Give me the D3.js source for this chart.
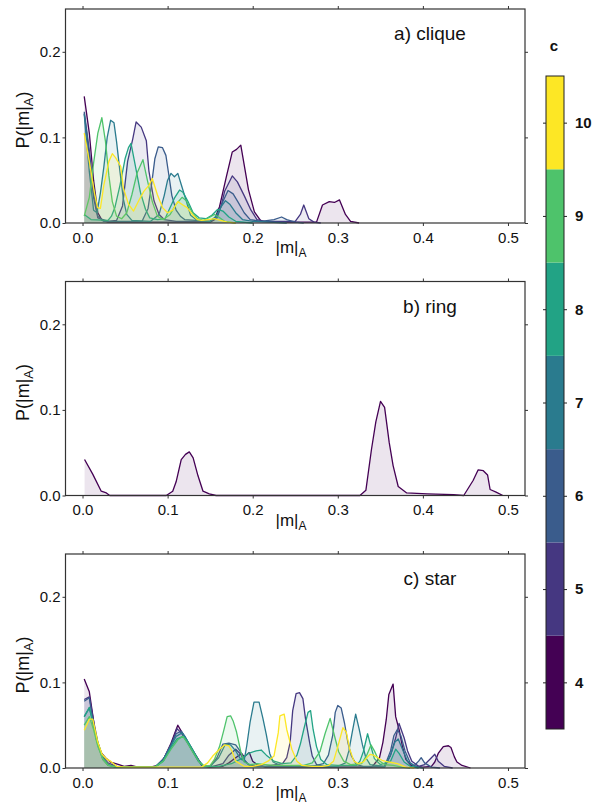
<!DOCTYPE html>
<html>
<head>
<meta charset="utf-8">
<script src="https://cdn.jsdelivr.net/npm/d3@7"></script>
<style>
  body { margin: 0; background: #fff; }
  text { font-family: "Liberation Sans", Arial, sans-serif; }
</style>
</head>
<body>
<div class="chart"></div>
<script>
// colour scale c = 4..10
var cValues = [4, 5, 6, 7, 8, 9, 10];
var cColors = ['#440154', '#453781', '#3a5c8c', '#2a7b8e', '#22a385', '#4ec36b', '#fde725'];

var xTicks = [0, 0.1, 0.2, 0.3, 0.4, 0.5];
var yTicks = [0, 0.1, 0.2];
var panelLabels = ['a) clique', 'b) ring', 'c) star'];

// a) clique, [|m|_A, P] per c
var cliqueC4 = [[0.002,0.148],[0.008,0.105],[0.013,0.05],[0.018,0.012],[0.023,0.003],[0.03,0.001],[0.08,0.001],[0.15,0.001],[0.155,0.004],[0.161,0.019],[0.169,0.054],[0.176,0.083],[0.181,0.086],[0.186,0.091],[0.195,0.039],[0.202,0.013],[0.21,0.002],[0.24,0.001],[0.275,0.001],[0.282,0.021],[0.29,0.025],[0.296,0.024],[0.302,0.027],[0.309,0.01],[0.315,0.002],[0.325,0]];
var cliqueC5 = [[0.002,0.128],[0.008,0.08],[0.013,0.03],[0.018,0.006],[0.03,0.002],[0.04,0.003],[0.047,0.02],[0.053,0.072],[0.059,0.098],[0.063,0.118],[0.069,0.112],[0.075,0.096],[0.078,0.061],[0.084,0.026],[0.09,0.01],[0.096,0.004],[0.11,0.002],[0.15,0.002],[0.158,0.006],[0.163,0.02],[0.167,0.037],[0.176,0.055],[0.182,0.048],[0.19,0.032],[0.198,0.015],[0.205,0.004],[0.215,0.002],[0.25,0.002],[0.256,0.01],[0.26,0.021],[0.266,0.005],[0.272,0.001],[0.28,0]];
var cliqueC6 = [[0.002,0.13],[0.008,0.085],[0.013,0.035],[0.018,0.008],[0.025,0.002],[0.07,0.002],[0.077,0.017],[0.081,0.044],[0.085,0.075],[0.089,0.089],[0.094,0.088],[0.098,0.079],[0.101,0.059],[0.105,0.032],[0.11,0.015],[0.115,0.008],[0.12,0.004],[0.15,0.002],[0.158,0.008],[0.165,0.025],[0.171,0.038],[0.177,0.034],[0.183,0.024],[0.19,0.012],[0.197,0.004],[0.21,0.002],[0.225,0.004],[0.234,0.007],[0.24,0.004],[0.25,0.001],[0.26,0]];
var cliqueC7 = [[0.002,0.127],[0.008,0.06],[0.013,0.015],[0.017,0.012],[0.021,0.035],[0.025,0.065],[0.029,0.1],[0.033,0.12],[0.037,0.117],[0.04,0.095],[0.044,0.06],[0.048,0.028],[0.052,0.01],[0.058,0.003],[0.08,0.002],[0.09,0.01],[0.096,0.032],[0.1,0.05],[0.104,0.058],[0.108,0.054],[0.112,0.058],[0.116,0.045],[0.12,0.032],[0.127,0.009],[0.135,0.003],[0.15,0.002],[0.157,0.008],[0.163,0.019],[0.168,0.026],[0.173,0.022],[0.18,0.012],[0.188,0.004],[0.2,0.002],[0.22,0.001],[0.24,0]];
var cliqueC8 = [[0.002,0.01],[0.01,0.004],[0.03,0.003],[0.034,0.008],[0.038,0.018],[0.044,0.044],[0.05,0.075],[0.054,0.088],[0.057,0.093],[0.063,0.062],[0.068,0.036],[0.074,0.016],[0.079,0.006],[0.088,0.004],[0.097,0.005],[0.102,0.016],[0.108,0.029],[0.114,0.0385],[0.118,0.036],[0.124,0.025],[0.13,0.012],[0.137,0.006],[0.145,0.005],[0.152,0.009],[0.159,0.016],[0.165,0.014],[0.172,0.007],[0.18,0.002],[0.2,0]];
var cliqueC9 = [[0.002,0.008],[0.008,0.03],[0.013,0.07],[0.018,0.105],[0.0227,0.123],[0.027,0.095],[0.031,0.055],[0.035,0.025],[0.04,0.008],[0.046,0.005],[0.052,0.012],[0.058,0.033],[0.064,0.058],[0.071,0.074],[0.076,0.051],[0.082,0.025],[0.088,0.008],[0.095,0.004],[0.103,0.01],[0.11,0.022],[0.117,0.03],[0.122,0.026],[0.128,0.014],[0.135,0.005],[0.142,0.003],[0.15,0.007],[0.155,0.01],[0.16,0.007],[0.167,0.002],[0.18,0]];
var cliqueC10 = [[0.002,0.105],[0.008,0.072],[0.0137,0.037],[0.0176,0.018],[0.021,0.017],[0.025,0.044],[0.031,0.072],[0.035,0.081],[0.039,0.076],[0.045,0.066],[0.048,0.041],[0.054,0.022],[0.06,0.014],[0.066,0.026],[0.072,0.037],[0.078,0.044],[0.082,0.052],[0.088,0.033],[0.094,0.018],[0.1,0.012],[0.106,0.015],[0.112,0.025],[0.118,0.021],[0.123,0.018],[0.129,0.01],[0.135,0.004],[0.14,0.003],[0.148,0.004],[0.155,0.005],[0.162,0.003],[0.17,0.001],[0.18,0]];

// b) ring, only c = 4
var ringC4 = [[0.0024,0.042],[0.012,0.025],[0.022,0.005],[0.028,0.003],[0.032,0],[0.0985,0],[0.106,0.005],[0.11,0.016],[0.116,0.042],[0.121,0.048],[0.1255,0.051],[0.13,0.044],[0.1357,0.023],[0.1416,0.005],[0.149,0.002],[0.157,0],[0.326,0],[0.333,0.006],[0.3396,0.054],[0.3447,0.086],[0.3502,0.11],[0.355,0.103],[0.3604,0.062],[0.365,0.035],[0.371,0.0105],[0.381,0.003],[0.405,0.002],[0.436,0.001],[0.448,0],[0.459,0.0175],[0.465,0.03],[0.471,0.029],[0.476,0.024],[0.479,0.007],[0.486,0.004],[0.494,0]];

// c) star
var starC4 = [[0.002,0.104],[0.008,0.089],[0.012,0.062],[0.016,0.034],[0.022,0.018],[0.028,0.011],[0.033,0.007],[0.041,0.0045],[0.049,0.002],[0.057,0.003],[0.065,0.001],[0.08,0.001],[0.088,0.003],[0.096,0.012],[0.104,0.029],[0.11,0.045],[0.112,0.05],[0.116,0.043],[0.12,0.036],[0.127,0.025],[0.135,0.012],[0.14,0.003],[0.15,0.001],[0.165,0.002],[0.172,0.006],[0.18,0.012],[0.187,0.017],[0.19,0.013],[0.196,0.018],[0.2,0.008],[0.205,0.004],[0.215,0.001],[0.34,0.001],[0.349,0.012],[0.353,0.03],[0.357,0.057],[0.36,0.086],[0.365,0.098],[0.368,0.06],[0.372,0.045],[0.376,0.025],[0.38,0.01],[0.386,0.003],[0.4,0.001],[0.41,0.002],[0.414,0.007],[0.418,0.017],[0.424,0.025],[0.43,0.026],[0.433,0.024],[0.437,0.013],[0.44,0.007],[0.446,0.003],[0.456,0]];
var starC5 = [[0.002,0.08],[0.008,0.083],[0.013,0.055],[0.018,0.03],[0.023,0.014],[0.03,0.006],[0.04,0.002],[0.06,0.001],[0.085,0.001],[0.095,0.01],[0.104,0.027],[0.111,0.046],[0.116,0.041],[0.12,0.035],[0.128,0.022],[0.136,0.01],[0.142,0.002],[0.15,0.001],[0.165,0.005],[0.172,0.015],[0.18,0.022],[0.186,0.016],[0.19,0.008],[0.197,0.003],[0.215,0.002],[0.235,0.005],[0.24,0.012],[0.244,0.03],[0.247,0.067],[0.251,0.087],[0.255,0.088],[0.259,0.081],[0.262,0.058],[0.267,0.029],[0.27,0.014],[0.275,0.004],[0.285,0.001],[0.355,0.001],[0.362,0.015],[0.368,0.035],[0.372,0.052],[0.378,0.035],[0.382,0.02],[0.387,0.008],[0.395,0.002],[0.402,0.004],[0.408,0.01],[0.414,0.016],[0.418,0.008],[0.425,0.002],[0.435,0]];
var starC6 = [[0.002,0.078],[0.008,0.082],[0.013,0.05],[0.018,0.027],[0.024,0.01],[0.03,0.004],[0.04,0.001],[0.085,0.001],[0.095,0.01],[0.104,0.027],[0.11,0.04],[0.116,0.043],[0.121,0.036],[0.128,0.022],[0.136,0.008],[0.142,0.002],[0.15,0.002],[0.158,0.012],[0.165,0.028],[0.172,0.029],[0.18,0.027],[0.185,0.02],[0.19,0.01],[0.195,0.004],[0.2,0.002],[0.23,0.002],[0.27,0.002],[0.283,0.005],[0.289,0.015],[0.294,0.038],[0.297,0.065],[0.3,0.073],[0.304,0.07],[0.308,0.052],[0.312,0.029],[0.316,0.014],[0.322,0.004],[0.33,0.002],[0.355,0.002],[0.362,0.02],[0.366,0.038],[0.37,0.045],[0.374,0.038],[0.379,0.02],[0.385,0.006],[0.39,0.003],[0.395,0.008],[0.398,0.012],[0.402,0.006],[0.41,0.001],[0.42,0]];
var starC7 = [[0.002,0.06],[0.008,0.07],[0.013,0.05],[0.018,0.028],[0.024,0.01],[0.03,0.003],[0.04,0.001],[0.085,0.001],[0.095,0.01],[0.104,0.026],[0.11,0.037],[0.117,0.041],[0.122,0.034],[0.129,0.022],[0.136,0.009],[0.142,0.002],[0.15,0.002],[0.16,0.012],[0.168,0.028],[0.174,0.027],[0.18,0.02],[0.186,0.01],[0.19,0.009],[0.193,0.026],[0.197,0.054],[0.2015,0.077],[0.2075,0.077],[0.212,0.058],[0.216,0.039],[0.22,0.017],[0.224,0.007],[0.232,0.003],[0.3,0.002],[0.309,0.006],[0.313,0.02],[0.317,0.042],[0.321,0.063],[0.325,0.046],[0.329,0.027],[0.333,0.012],[0.338,0.004],[0.355,0.002],[0.362,0.015],[0.367,0.03],[0.371,0.034],[0.376,0.022],[0.382,0.008],[0.39,0.002],[0.4,0]];
var starC8 = [[0.002,0.06],[0.008,0.071],[0.013,0.05],[0.018,0.03],[0.024,0.012],[0.03,0.004],[0.04,0.001],[0.085,0.001],[0.095,0.008],[0.104,0.024],[0.111,0.034],[0.118,0.037],[0.123,0.032],[0.13,0.02],[0.137,0.008],[0.143,0.002],[0.16,0.002],[0.175,0.005],[0.185,0.01],[0.195,0.017],[0.204,0.02],[0.21,0.021],[0.216,0.015],[0.225,0.008],[0.235,0.005],[0.245,0.006],[0.252,0.015],[0.256,0.028],[0.26,0.045],[0.265,0.065],[0.268,0.067],[0.271,0.045],[0.275,0.025],[0.28,0.01],[0.287,0.004],[0.3,0.003],[0.322,0.003],[0.326,0.008],[0.33,0.019],[0.335,0.04],[0.339,0.025],[0.343,0.011],[0.35,0.004],[0.362,0.008],[0.368,0.022],[0.372,0.017],[0.378,0.007],[0.385,0.002],[0.395,0]];
var starC9 = [[0.002,0.05],[0.008,0.06],[0.013,0.045],[0.018,0.025],[0.024,0.01],[0.03,0.003],[0.04,0.001],[0.085,0.001],[0.095,0.008],[0.104,0.022],[0.112,0.033],[0.118,0.037],[0.123,0.03],[0.13,0.018],[0.137,0.007],[0.143,0.002],[0.15,0.003],[0.155,0.01],[0.161,0.025],[0.166,0.044],[0.17,0.06],[0.174,0.061],[0.177,0.055],[0.181,0.042],[0.186,0.019],[0.19,0.007],[0.197,0.004],[0.205,0.005],[0.215,0.004],[0.225,0.003],[0.26,0.003],[0.27,0.006],[0.279,0.019],[0.285,0.04],[0.291,0.058],[0.296,0.038],[0.301,0.019],[0.307,0.008],[0.315,0.004],[0.328,0.005],[0.334,0.015],[0.339,0.027],[0.343,0.02],[0.348,0.009],[0.355,0.004],[0.365,0.003],[0.375,0.001],[0.385,0]];
var starC10 = [[0.002,0.044],[0.008,0.057],[0.012,0.057],[0.018,0.03],[0.023,0.016],[0.029,0.01],[0.033,0.008],[0.04,0.002],[0.05,0.001],[0.14,0.001],[0.147,0.006],[0.153,0.014],[0.161,0.022],[0.167,0.027],[0.172,0.026],[0.176,0.019],[0.18,0.008],[0.19,0.002],[0.2,0.002],[0.21,0.004],[0.218,0.008],[0.225,0.014],[0.23,0.041],[0.232,0.061],[0.237,0.063],[0.24,0.045],[0.246,0.022],[0.252,0.008],[0.258,0.003],[0.27,0.002],[0.282,0.002],[0.289,0.003],[0.295,0.008],[0.3,0.025],[0.306,0.047],[0.31,0.042],[0.314,0.022],[0.319,0.008],[0.324,0.005],[0.33,0.007],[0.335,0.013],[0.338,0.016],[0.342,0.015],[0.347,0.012],[0.352,0.009],[0.36,0.007],[0.37,0.005],[0.38,0.001],[0.39,0]];

(function chart() {

  'use strict';

  var width = 598;
  var height = 804;

  var frame = { left: 65.5, right: 525 };
  var panelTops = [9, 281.5, 554];
  var panelHeight = 214;

  var panels = [
    [cliqueC4, cliqueC5, cliqueC6, cliqueC7, cliqueC8, cliqueC9, cliqueC10],
    [ringC4],
    [starC4, starC5, starC6, starC7, starC8, starC9, starC10]
  ];

  var svg = d3.select('.chart').append('svg')
    .attr('width', width)
    .attr('height', height);

  var x = d3.scaleLinear()
    .domain([-0.02, 0.52])
    .range([frame.left, frame.right]);

  var color = d3.scaleOrdinal().domain(cValues).range(cColors);

  panels.forEach(function (series, p) {
    drawPanel(series, panelTops[p], panelLabels[p]);
  });

  drawColorbar();

  function drawPanel(series, top, label) {

    var y = d3.scaleLinear()
      .domain([0, 0.25])
      .range([top + panelHeight, top]);

    var g = svg.append('g');

    var area = d3.area()
      .x(function (d) { return x(d[0]); })
      .y0(y(0))
      .y1(function (d) { return y(d[1]); });

    var line = d3.line()
      .x(function (d) { return x(d[0]); })
      .y(function (d) { return y(d[1]); });

    // fills and outlines, c = 4 first so yellow ends on top
    series.forEach(function (pts, i) {
      var col = color(cValues[i]);
      g.append('path')
        .attr('d', area(pts))
        .attr('fill', col)
        .attr('fill-opacity', 0.1);
      g.append('path')
        .attr('d', line(pts))
        .attr('fill', 'none')
        .attr('stroke', col)
        .attr('stroke-width', 1.3)
        .attr('stroke-linejoin', 'round');
    });

    // frame
    g.append('rect')
      .attr('x', frame.left)
      .attr('y', top)
      .attr('width', frame.right - frame.left)
      .attr('height', panelHeight)
      .attr('fill', 'none')
      .attr('stroke', '#333')
      .attr('stroke-width', 1.2);

    var bottom = g.append('g')
      .attr('transform', 'translate(0,' + (top + panelHeight) + ')')
      .call(d3.axisBottom(x).tickValues(xTicks).tickSize(3).tickPadding(6)
        .tickFormat(d3.format('.1f')));
    var topAxis = g.append('g')
      .attr('transform', 'translate(0,' + top + ')')
      .call(d3.axisTop(x).tickValues(xTicks).tickSize(3).tickFormat(''));
    var left = g.append('g')
      .attr('transform', 'translate(' + frame.left + ',0)')
      .call(d3.axisLeft(y).tickValues(yTicks).tickSize(3).tickPadding(2)
        .tickFormat(d3.format('.1f')));
    var right = g.append('g')
      .attr('transform', 'translate(' + frame.right + ',0)')
      .call(d3.axisRight(y).tickValues(yTicks).tickSize(3).tickFormat(''));

    [bottom, topAxis, left, right].forEach(function (a) {
      a.select('.domain').remove();
      a.selectAll('.tick line').attr('stroke', '#333');
      a.selectAll('.tick text')
        .attr('fill', '#111')
        .style('font-size', '15px')
        .style('font-family', '"Liberation Sans", Arial, sans-serif');
    });

    // x title |m|_A
    var xt = g.append('text')
      .attr('x', 291)
      .attr('y', top + panelHeight + 30)
      .attr('text-anchor', 'middle')
      .style('font-size', '17px')
      .attr('fill', '#111');
    xt.append('tspan').text('|m|');
    xt.append('tspan').attr('dy', 4).style('font-size', '12px').text('A');

    // y title P(|m|_A)
    var yt = g.append('text')
      .attr('transform', 'translate(29,' + (top + panelHeight / 2 + 4) + ') rotate(-90)')
      .attr('text-anchor', 'middle')
      .style('font-size', '18px')
      .attr('fill', '#111');
    yt.append('tspan').text('P(|m|');
    yt.append('tspan').attr('dy', 4).style('font-size', '13px').text('A');
    yt.append('tspan').attr('dy', -4).text(')');

    // panel label, centred near |m|_A = 0.41
    g.append('text')
      .attr('x', 430)
      .attr('y', top + 31)
      .attr('text-anchor', 'middle')
      .style('font-size', '19px')
      .attr('fill', '#111')
      .text(label);
  }

  function drawColorbar() {

    var cb = { left: 546, width: 18, top: 76, bottom: 729 };

    var cy = d3.scaleLinear()
      .domain([3.5, 10.5])
      .range([cb.bottom, cb.top]);

    var g = svg.append('g');

    g.selectAll('.cell')
        .data(cValues)
        .enter()
      .append('rect')
        .attr('class', 'cell')
        .attr('x', cb.left)
        .attr('y', function (d) { return cy(d + 0.5); })
        .attr('width', cb.width)
        .attr('height', function (d) { return cy(d - 0.5) - cy(d + 0.5); })
        .attr('fill', function (d) { return color(d); });

    g.append('rect')
      .attr('x', cb.left)
      .attr('y', cb.top)
      .attr('width', cb.width)
      .attr('height', cb.bottom - cb.top)
      .attr('fill', 'none')
      .attr('stroke', '#222')
      .attr('stroke-width', 1);

    var la = g.append('g')
      .attr('transform', 'translate(' + cb.left + ',0)')
      .call(d3.axisLeft(cy).tickValues(cValues).tickSize(3).tickFormat(''));
    var ra = g.append('g')
      .attr('transform', 'translate(' + (cb.left + cb.width) + ',0)')
      .call(d3.axisRight(cy).tickValues(cValues).tickSize(3).tickPadding(8)
        .tickFormat(d3.format('d')));

    [la, ra].forEach(function (a) {
      a.select('.domain').remove();
      a.selectAll('.tick line').attr('stroke', '#222');
      a.selectAll('.tick text')
        .attr('fill', '#111')
        .style('font-size', '15px')
        .style('font-weight', 'bold')
        .style('font-family', '"Liberation Sans", Arial, sans-serif');
    });

    g.append('text')
      .attr('x', cb.left + cb.width / 2 - 1)
      .attr('y', 51)
      .attr('text-anchor', 'middle')
      .style('font-size', '15px')
      .style('font-weight', 'bold')
      .attr('fill', '#111')
      .text('c');
  }
})();
</script>
</body>
</html>
